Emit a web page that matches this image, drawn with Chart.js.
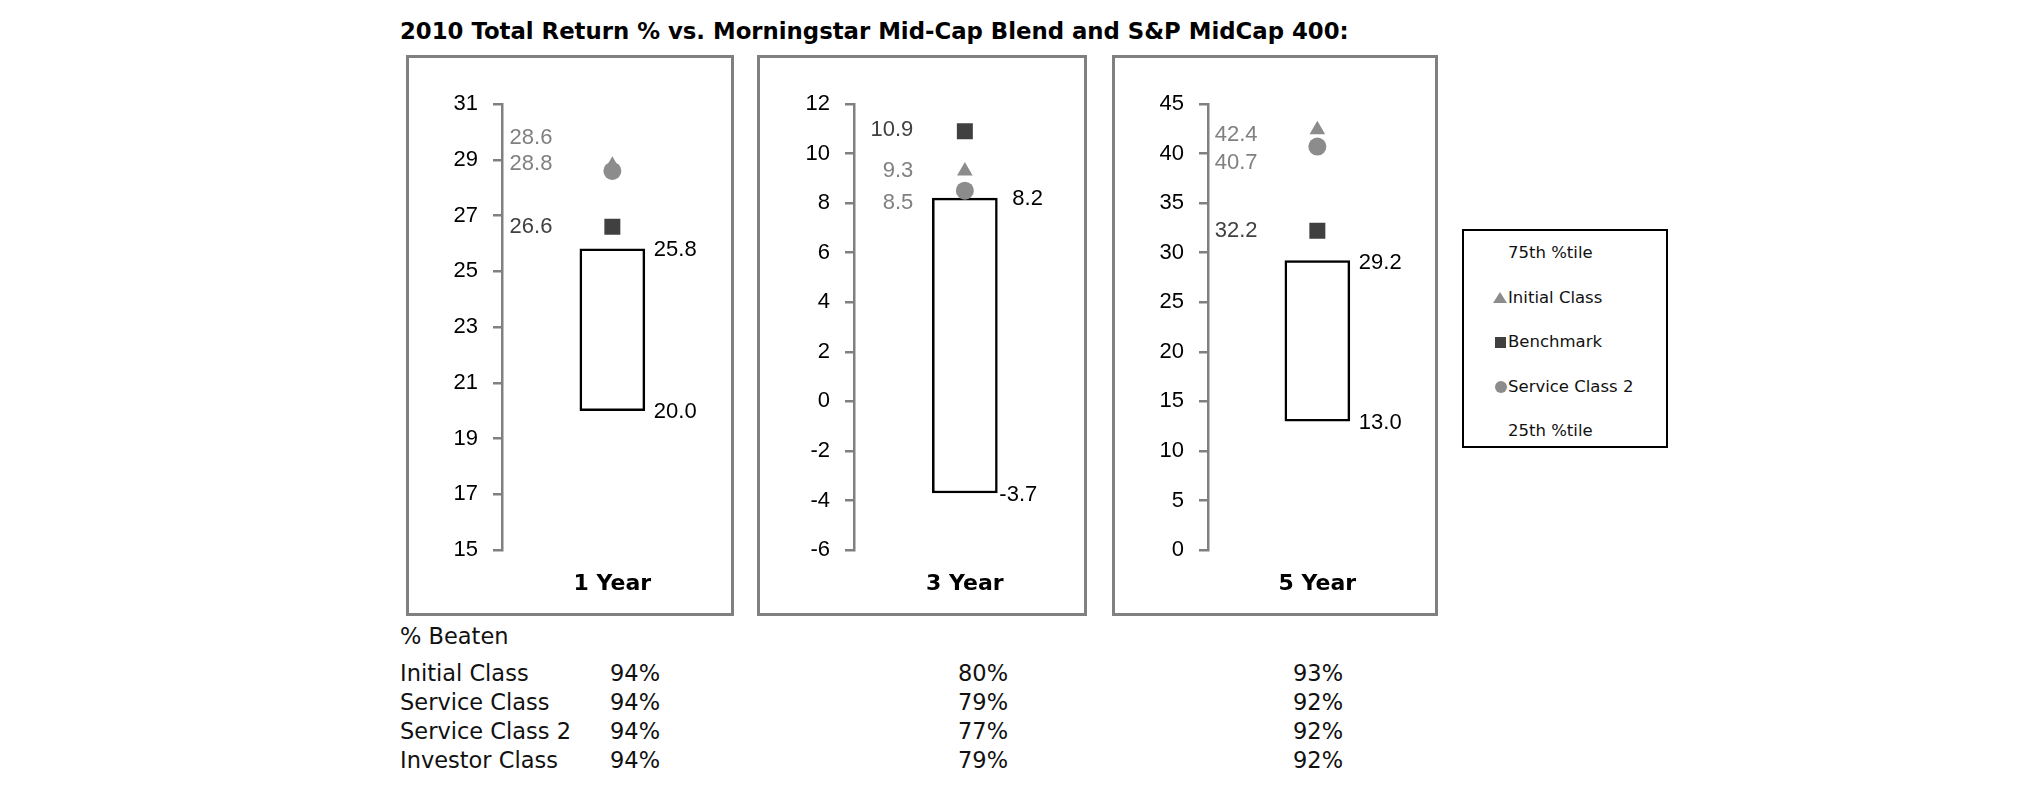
<!DOCTYPE html>
<html>
<head>
<meta charset="utf-8">
<script src="https://cdn.jsdelivr.net/npm/chart.js@4.4.1/dist/chart.umd.min.js"></script>
<style>
  body { margin: 0; background: #fff; width: 2025px; height: 806px; position: relative; overflow: hidden;
         font-family: "DejaVu Sans", Verdana, sans-serif; color: #000; }
  .abs { position: absolute; white-space: nowrap; }
  .panel { position: absolute; border: 3px solid #808080; box-sizing: border-box; }
  canvas { position: absolute; }
  #title { left: 400px; top: 17px; font-weight: bold; font-size: 22.8px; line-height: 28px; }
  #legend { position: absolute; left: 1462px; top: 229px; width: 206px; height: 219px;
            border: 2px solid #000; box-sizing: border-box; }
  .leg { font-size: 16.5px; line-height: 20px; color: #111; }
  .tbl { font-size: 22.5px; line-height: 28px; color: #111; }
</style>
</head>
<body>
<div id="title" class="abs">2010 Total Return % vs. Morningstar Mid-Cap Blend and S&amp;P MidCap 400:</div>
<div id="legend"></div>

<script>
// ---- data ----
const periods = ['1 Year', '3 Year', '5 Year'];
const pct75 = [25.8, 8.2, 29.2];
const pct25 = [20.0, -3.7, 13.0];
const initialClass = [28.8, 9.3, 42.4];
const benchmark = [26.6, 10.9, 32.2];
const serviceClass2 = [28.6, 8.5, 40.7];
const yMin = [15, -6, 0];
const yMax = [31, 12, 45];
const yStep = [2, 2, 5];

const legendLabels = ['75th %tile', 'Initial Class', 'Benchmark', 'Service Class 2', '25th %tile'];

const beatenClasses = ['Initial Class', 'Service Class', 'Service Class 2', 'Investor Class'];
const beaten1Year = [94, 94, 94, 94];
const beaten3Year = [80, 79, 77, 79];
const beaten5Year = [93, 92, 92, 92];

// ---- layout (page pixels) ----
const panelLeft = [406, 757, 1112];
const panelWidth = [328, 330, 326];
const panelTop = 55, panelHeight = 561;
const yAxisWidth = [96, 97, 96];
const padRight = [1, 5, 0];

// label placement tweaks per panel
const markerLabelAlign = ['left', 'right', 'left'];
const markerLabelDx = [7.6, 59.3, 6.7];
const initialLabelDy = [-1, 0, 5];
const benchLabelDy = [0, -1, 0];
const sc2LabelDy = [-33, 12, 16];
const hiLabelDx = [9, 15, 9], hiLabelDy = [1, 1, 2];
const loLabelDx = [9, 2, 9], loLabelDy = [1, 2, 1.5];

const GRAY = '#8c8c8c', DARK = '#404040', AXIS = '#808080';
const numFont = '22px "Liberation Sans", Arial, sans-serif';

const valueLabels = {
  id: 'valueLabels',
  afterDatasetsDraw(chart, args, opts) {
    const i = opts.panel;
    const ctx = chart.ctx;
    const ys = chart.scales.y;
    const axisX = chart.chartArea.left;
    const bar = chart.getDatasetMeta(0).data[0];
    const barRight = bar.x + bar.width / 2;
    ctx.save();
    ctx.font = numFont;
    ctx.textBaseline = 'middle';

    ctx.textAlign = markerLabelAlign[i];
    const mx = axisX + markerLabelDx[i];
    ctx.fillStyle = '#808080';
    ctx.fillText(initialClass[i].toFixed(1), mx, ys.getPixelForValue(initialClass[i]) + initialLabelDy[i]);
    ctx.fillText(serviceClass2[i].toFixed(1), mx, ys.getPixelForValue(serviceClass2[i]) + sc2LabelDy[i]);
    ctx.fillStyle = DARK;
    ctx.fillText(benchmark[i].toFixed(1), mx, ys.getPixelForValue(benchmark[i]) + benchLabelDy[i]);

    ctx.textAlign = 'left';
    ctx.fillStyle = '#000';
    ctx.fillText(pct75[i].toFixed(1), barRight + hiLabelDx[i], ys.getPixelForValue(pct75[i]) + hiLabelDy[i]);
    ctx.fillText(pct25[i].toFixed(1), barRight + loLabelDx[i], ys.getPixelForValue(pct25[i]) + loLabelDy[i]);
    ctx.restore();
  }
};

function makePanel(i) {
  const box = document.createElement('div');
  box.className = 'panel';
  Object.assign(box.style, { left: panelLeft[i] + 'px', top: panelTop + 'px',
    width: panelWidth[i] + 'px', height: panelHeight + 'px' });
  document.body.appendChild(box);

  const cv = document.createElement('canvas');
  cv.width = panelWidth[i];
  cv.height = panelHeight;
  Object.assign(cv.style, { left: panelLeft[i] + 'px', top: panelTop + 'px' });
  document.body.appendChild(cv);

  new Chart(cv, {
    type: 'bar',
    data: {
      labels: [periods[i]],
      datasets: [
        { type: 'bar', label: 'Range', data: [[pct25[i], pct75[i]]], backgroundColor: '#fff',
          borderColor: '#000', borderWidth: 2.5, borderSkipped: false, barThickness: 65, order: 4 },
        { type: 'line', label: 'Initial Class', data: [initialClass[i]], showLine: false,
          pointStyle: 'triangle', pointRadius: 9, pointBackgroundColor: GRAY, pointBorderWidth: 0, order: 3 },
        { type: 'line', label: 'Benchmark', data: [benchmark[i]], showLine: false,
          pointStyle: 'rect', pointRadius: 11.3, pointBackgroundColor: DARK, pointBorderWidth: 0, order: 2 },
        { type: 'line', label: 'Service Class 2', data: [serviceClass2[i]], showLine: false,
          pointStyle: 'circle', pointRadius: 9, pointBackgroundColor: GRAY, pointBorderWidth: 0, order: 1 }
      ]
    },
    options: {
      responsive: false,
      animation: false,
      layout: { padding: { top: 49, right: padRight[i], left: 0, bottom: 0 } },
      plugins: { legend: { display: false }, tooltip: { enabled: false }, valueLabels: { panel: i } },
      scales: {
        x: {
          grid: { display: false, drawTicks: false },
          border: { display: false },
          ticks: { color: '#000', padding: 21, font: { family: '"DejaVu Sans", Verdana, sans-serif', size: 22, weight: 'bold' } },
          afterFit: s => { s.height = 66; }
        },
        y: {
          min: yMin[i], max: yMax[i],
          ticks: { stepSize: yStep[i], padding: 15, color: '#000',
                   font: { family: '"Liberation Sans", Arial, sans-serif', size: 22 } },
          grid: { drawOnChartArea: false, drawTicks: true, tickLength: 9, color: AXIS, lineWidth: 2.5 },
          border: { display: true, color: AXIS, width: 2.5 },
          afterFit: s => { s.width = yAxisWidth[i]; }
        }
      }
    },
    plugins: [valueLabels]
  });
}
periods.forEach((p, i) => makePanel(i));

// ---- legend ----
const legendY = [253, 298, 342, 387, 431];
const legendMarker = [null, 'triangle', 'square', 'circle', null];
legendLabels.forEach((txt, k) => {
  const d = document.createElement('div');
  d.className = 'abs leg';
  d.textContent = txt;
  d.style.left = '1508px';
  d.style.top = (legendY[k] - 10) + 'px';
  document.body.appendChild(d);
  const m = legendMarker[k];
  if (!m) return;
  const s = document.createElement('div');
  s.className = 'abs';
  if (m === 'triangle') {
    Object.assign(s.style, { left: '1493px', top: (legendY[k] - 6) + 'px', width: 0, height: 0,
      borderLeft: '7px solid transparent', borderRight: '7px solid transparent', borderBottom: '11px solid ' + GRAY });
  } else if (m === 'square') {
    Object.assign(s.style, { left: '1495px', top: (legendY[k] - 5) + 'px', width: '11px', height: '11px', background: DARK });
  } else {
    Object.assign(s.style, { left: '1495px', top: (legendY[k] - 6) + 'px', width: '12px', height: '12px',
      borderRadius: '50%', background: GRAY });
  }
  document.body.appendChild(s);
});

// ---- % beaten table ----
function addText(txt, x, cy) {
  const d = document.createElement('div');
  d.className = 'abs tbl';
  d.textContent = txt;
  d.style.left = x + 'px';
  d.style.top = (cy - 14) + 'px';
  document.body.appendChild(d);
}
const rowY = [673, 702, 730.5, 759.5];
const colX = [610, 958, 1293];
addText('% Beaten', 400, 636);
beatenClasses.forEach((c, r) => {
  addText(c, 400, rowY[r]);
  [beaten1Year, beaten3Year, beaten5Year].forEach((arr, k) => addText(arr[r] + '%', colX[k], rowY[r]));
});
</script>
</body>
</html>
